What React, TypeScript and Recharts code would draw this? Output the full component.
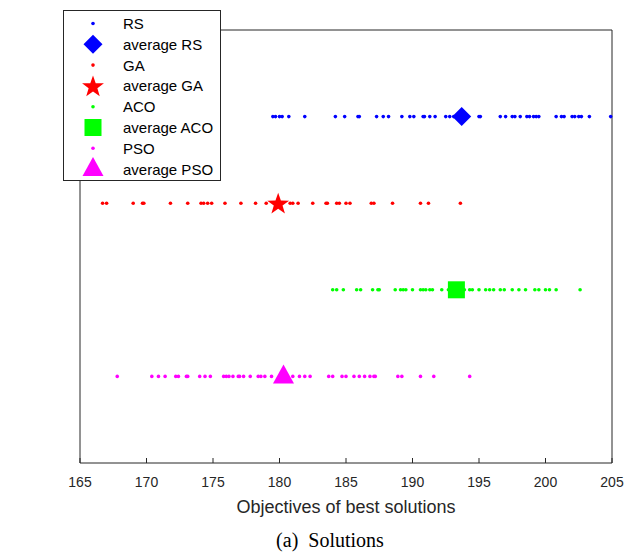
import { Label, Legend, Scatter, ScatterChart, XAxis, YAxis } from "recharts";

const methods = ["RS", "GA", "ACO", "PSO"];
const colors = ["#0000ff", "#ff0000", "#00ff00", "#ff00ff"];

const rsObjectives = [
  179.5, 179.7, 180.0, 180.2, 180.7, 181.9, 184.2, 184.9, 185.9, 186.0, 187.3, 187.8, 188.2, 189.2, 189.8,
  190.1, 190.8, 190.9, 191.3, 191.7, 192.5, 192.8, 193.1, 195.0, 195.1, 196.6, 197.0, 197.5, 197.7, 198.1,
  198.6, 198.8, 199.1, 199.3, 199.5, 200.8, 201.2, 201.4, 202.0, 202.2, 202.5, 202.7, 203.3, 204.9,
];
const gaObjectives = [
  166.7, 167.0, 169.0, 169.7, 169.8, 171.8, 173.1, 174.1, 174.3, 174.6, 174.9, 175.9, 177.1, 178.2, 179.0,
  180.8, 181.0, 181.4, 182.5, 183.5, 183.6, 184.3, 184.5, 185.0, 185.3, 186.9, 187.1, 188.5, 190.6, 191.2,
  193.6,
];
const acoObjectives = [
  184.0, 184.3, 184.8, 185.8, 186.1, 187.0, 187.4, 187.5, 188.7, 189.1, 189.3, 189.5, 190.0, 190.6, 190.8,
  191.0, 191.3, 191.5, 192.2, 192.7, 193.9, 194.3, 194.5, 195.0, 195.5, 195.8, 196.1, 196.6, 196.9, 197.5,
  198.0, 198.5, 199.2, 199.5, 200.0, 200.3, 200.8, 202.6,
];
const psoObjectives = [
  167.8, 170.4, 170.9, 171.4, 172.2, 172.4, 173.0, 173.1, 174.0, 174.4, 174.8, 175.8, 176.0, 176.2, 176.5,
  176.9, 177.0, 177.3, 177.8, 178.4, 178.6, 178.9, 179.4, 181.0, 181.5, 181.9, 182.3, 183.7, 184.0, 184.7,
  185.0, 185.6, 186.0, 186.4, 186.8, 187.1, 187.2, 188.9, 189.2, 190.6, 191.6, 194.3,
];
const averages = [193.7, 179.9, 193.3, 180.3];
const xTicks = [165, 170, 175, 180, 185, 190, 195, 200, 205];

const runs = [rsObjectives, gaObjectives, acoObjectives, psoObjectives];
const AXIS = "#262626";
const FONT = "'Liberation Sans', Arial, sans-serif";

// marker drawing, shared by plot and legend
function marker(kind: string, cx: number, cy: number, fill: string) {
  if (kind === "dot") return <circle cx={cx} cy={cy} r={1.8} fill={fill} />;
  if (kind === "diamond") {
    const r = 9.5;
    return <polygon points={`${cx},${cy - r} ${cx + r},${cy} ${cx},${cy + r} ${cx - r},${cy}`} fill={fill} />;
  }
  if (kind === "square") return <rect x={cx - 8.5} y={cy - 8.5} width={17} height={17} fill={fill} />;
  if (kind === "triangle") {
    return <polygon points={`${cx},${cy - 12} ${cx + 10.5},${cy + 7} ${cx - 10.5},${cy + 7}`} fill={fill} />;
  }
  // pentagram
  const pts: string[] = [];
  for (let i = 0; i < 10; i++) {
    const r = i % 2 === 0 ? 11.5 : 4.6;
    const a = (Math.PI / 5) * i - Math.PI / 2;
    pts.push(`${cx + r * Math.cos(a)},${cy + 1 + r * Math.sin(a)}`);
  }
  return <polygon points={pts.join(" ")} fill={fill} />;
}

const avgShapes = ["diamond", "star", "square", "triangle"];

function BottomTick(props: any) {
  const { x, y, payload } = props;
  return (
    <g>
      <line x1={x} x2={x} y1={y} y2={y - 5} stroke={AXIS} />
      <text x={x} y={y + 24} textAnchor="middle" fontSize={14} fontFamily={FONT} fill={AXIS}>
        {payload.value}
      </text>
    </g>
  );
}

function TopTick(props: any) {
  const { x, y } = props;
  return <line x1={x} x2={x} y1={y} y2={y + 5} stroke={AXIS} />;
}

function LegendBox() {
  const rows = methods.flatMap((m, i) => [
    { label: m, kind: "dot", color: colors[i] },
    { label: `average ${m}`, kind: avgShapes[i], color: colors[i] },
  ]);
  return (
    <svg width={158} height={171} style={{ display: "block" }}>
      <rect x={0.5} y={0.5} width={157} height={170} fill="#fff" stroke={AXIS} />
      {rows.map((r, i) => {
        const cy = 13.5 + i * 20.8;
        return (
          <g key={r.label}>
            {marker(r.kind, 30, cy, r.color)}
            <text x={60} y={cy + 5.4} fontSize={15} fontFamily={FONT} fill="#000">
              {r.label}
            </text>
          </g>
        );
      })}
    </svg>
  );
}

export default function App() {
  return (
    <div style={{ position: "absolute", left: 0, top: 0, width: 643, height: 552, background: "#fff" }}>
      <ScatterChart width={643} height={552} margin={{ top: 29, right: 30, bottom: 0, left: 79 }}>
        <XAxis
          dataKey="x"
          type="number"
          domain={[165, 205]}
          ticks={xTicks}
          interval={0}
          tickLine={false}
          tickSize={0}
          tickMargin={0}
          height={89}
          axisLine={{ stroke: AXIS }}
          tick={(p: any) => <BottomTick {...p} />}
        >
          <Label
            value="Objectives of best solutions"
            position="insideTop"
            offset={37}
            style={{ fontSize: 18, fontFamily: FONT, fill: AXIS }}
          />
        </XAxis>
        <XAxis
          xAxisId="top"
          orientation="top"
          type="number"
          domain={[165, 205]}
          ticks={xTicks}
          interval={0}
          tickLine={false}
          tickSize={0}
          tickMargin={0}
          height={1}
          axisLine={{ stroke: AXIS }}
          tick={(p: any) => <TopTick {...p} />}
        />
        <YAxis yAxisId="l" dataKey="y" type="number" domain={[0, 5]} width={1} tick={false} tickLine={false} axisLine={{ stroke: AXIS }} />
        <YAxis yAxisId="r" orientation="right" type="number" domain={[0, 5]} width={1} tick={false} tickLine={false} axisLine={{ stroke: AXIS }} />
        {runs.map((vals, i) => (
          <Scatter
            key={methods[i]}
            name={methods[i]}
            yAxisId="l"
            data={vals.map((v) => ({ x: v, y: methods.length - i }))}
            fill={colors[i]}
            isAnimationActive={false}
            shape={(p: any) => marker("dot", p.cx, p.cy, colors[i])}
          />
        ))}
        {averages.map((v, i) => (
          <Scatter
            key={`avg-${methods[i]}`}
            name={`average ${methods[i]}`}
            yAxisId="l"
            data={[{ x: v, y: methods.length - i }]}
            fill={colors[i]}
            isAnimationActive={false}
            shape={(p: any) => marker(avgShapes[i], p.cx, p.cy, colors[i])}
          />
        ))}
        <Legend
          layout="vertical"
          align="center"
          verticalAlign="middle"
          wrapperStyle={{ left: 63, top: 10, width: 158, height: 171 }}
          content={() => <LegendBox />}
        />
      </ScatterChart>
      <div
        style={{
          position: "absolute",
          top: 530,
          left: 0,
          width: 660,
          textAlign: "center",
          fontFamily: "'Liberation Serif', 'Times New Roman', serif",
          fontSize: 20,
          lineHeight: "20px",
          whiteSpace: "pre",
          color: "#000",
        }}
      >
        (a)  Solutions
      </div>
    </div>
  );
}
